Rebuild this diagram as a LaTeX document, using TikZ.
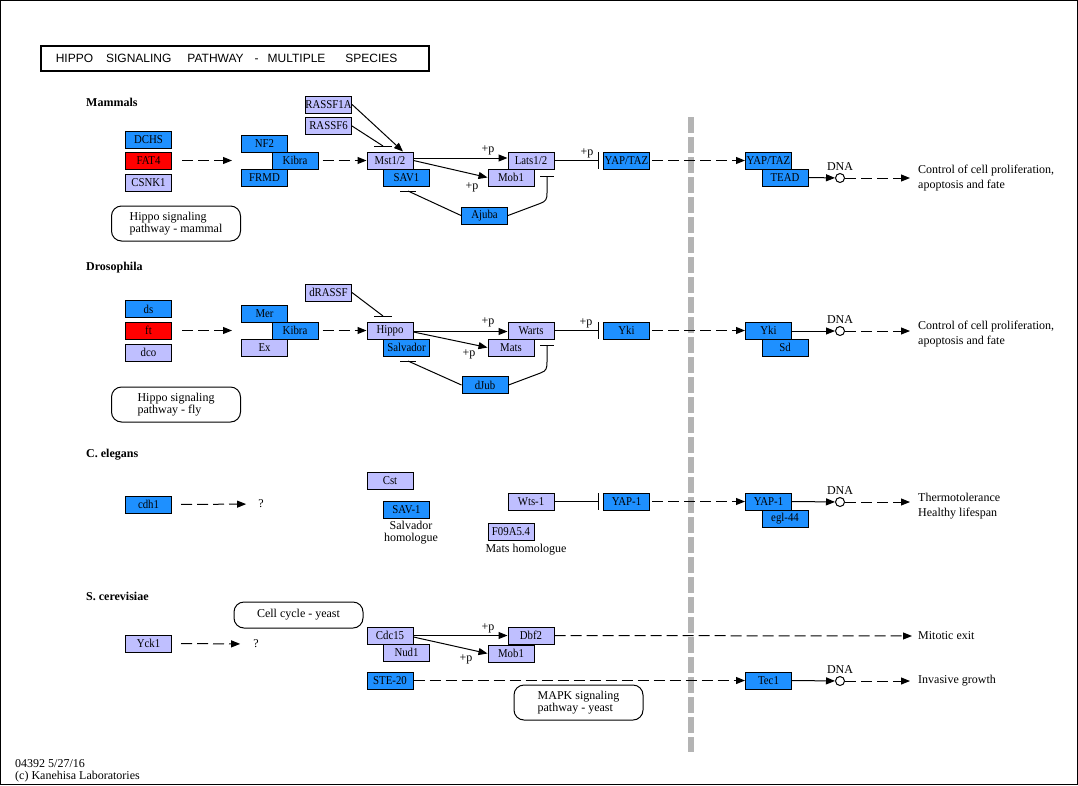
\documentclass[tikz,border=0pt]{standalone}
\usepackage{fontspec}
\setmainfont{Liberation Serif}
\newfontfamily\titlefont{Liberation Sans}
\newfontfamily\genefont[FakeStretch=0.9]{Liberation Serif}
\usetikzlibrary{arrows.meta, positioning}
\definecolor{keggblue}{HTML}{1E90FF}
\definecolor{kegglav}{HTML}{BFBFFF}
\definecolor{keggred}{HTML}{FF0000}
\definecolor{divgray}{HTML}{B4B4B4}
\tikzset{
    gene/.style={draw=black, line width=1pt, minimum width=46pt, minimum height=17pt, inner sep=0pt, font=\genefont\fontsize{12}{12}\selectfont},
    hs/.style={gene, fill=keggblue},
    ortho/.style={gene, fill=kegglav},
    hit/.style={gene, fill=keggred},
    mapbox/.style={draw, rounded corners=10pt, line width=1pt, minimum width=129pt, minimum height=35pt, align=left, font=\fontsize{12}{12}\selectfont},
    act/.style={line width=1pt, -{Triangle[length=9pt,width=7pt]}},
    indirect/.style={act, dash pattern=on 11pt off 5pt},
    inhib/.style={line width=1pt, -{Bar[width=17pt]}, shorten >=4pt},
    tbar/.style={line width=1pt},
    dna/.style={circle, draw, line width=1pt, fill=white, inner sep=0pt, minimum size=9pt},
    lbl/.style={inner sep=0pt, font=\fontsize{12}{12}\selectfont},
    species/.style={anchor=west, inner sep=0pt, font=\fontsize{12}{14}\selectfont\bfseries},
    outcome/.style={anchor=west, align=left, inner sep=0pt, font=\fontsize{12}{15}\selectfont}
}
\begin{document}
\begin{tikzpicture}[x=1pt, y=-1pt]
    \useasboundingbox (0,0) rectangle (1078,785);
    \draw[line width=1pt] (0.5,0.5) rectangle (1077.5,784.5);

    % Title
    \node[draw, line width=1.5pt, anchor=west, inner xsep=15pt, minimum height=25pt, text width=358pt, align=left, font=\titlefont\fontsize{12}{14}\selectfont] (title) at (40,58.5)
        {HIPPO\hspace{13pt}SIGNALING\hspace{16pt}PATHWAY\hspace{11pt}-\hspace{9pt}MULTIPLE\hspace{20pt}SPECIES};

    % Nucleus border
    \coordinate (divtop) at (691,117);
    \coordinate (divbot) at (691,752);
    \draw[divgray, line width=6pt, dash pattern=on 16pt off 4pt] (divtop) -- (divbot);

    % Species labels
    \node[species] (mammals) at (86,102) {Mammals};
    \node[species] (fly) at (86,268) {Drosophila};
    \node[species] (worm) at (86,455) {C. elegans};
    \node[species] (yeast) at (86,596) {S. cerevisiae};

    % Mammals
    \node[hs] (dchs) at (148.5,139.5) {DCHS};
    \node[hit] (fatfour) at (148.5,160.5) {FAT4};
    \node[ortho] (csnk) at (148.5,182.5) {CSNK1};
    \node[hs] (nftwo) at (264.5,144) {NF2};
    \node[hs] (kibraM) at (295,160.5) {Kibra};
    \node[hs] (frmd) at (264.5,177.5) {FRMD};
    \node[ortho] (rassfA) at (328.5,104.5) {RASSF1A};
    \node[ortho] (rassfB) at (328.5,126) {RASSF6};
    \node[ortho] (mst) at (390,160.5) {Mst1/2};
    \node[hs] (savM) at (406.5,177.5) {SAV1};
    \node[ortho] (latsM) at (531,160.5) {Lats1/2};
    \node[ortho] (mobM) at (511,177.5) {Mob1};
    \node[hs] (yapM) at (626.5,160.5) {YAP/TAZ};
    \node[hs] (ajuba) at (484.5,215.5) {Ajuba};
    \node[hs] (yapMn) at (768.5,160.5) {YAP/TAZ};
    \node[hs] (tead) at (785,177.5) {TEAD};
    \node[dna] (dnaM) at (840,178) {};
    \node[lbl, above=2pt of dnaM] (dnaMl) {DNA};
    \node[outcome] (outM) at (918,178) {Control of cell proliferation,\\apoptosis and fate};
    \node[mapbox] (mapM) at (176,223.5) {Hippo signaling\\pathway - mammal};
    \coordinate (barRM) at (383,146);
    \coordinate (barSavM) at (408,191);
    \coordinate (barLatsM) at (547,176);

    \draw[indirect, shorten <=10pt, shorten >=9pt] (fatfour.east) -- (nftwo.west |- fatfour.east);
    \draw[indirect, shorten <=4pt] (kibraM.east) -- (mst.west);
    \draw[act] (rassfA.east) -- ([xshift=13pt]mst.north);
    \draw[tbar] (rassfB.east) -- (barRM);
    \draw[tbar] ([xshift=-9pt]barRM) -- ([xshift=9pt]barRM);
    \draw[act] ([yshift=2.5pt]mst.east) -- ([yshift=2.5pt]latsM.west);
    \draw[act] (mst.east) -- (mobM.west);
    \node[lbl] (pMa) at (488,150) {+p};
    \node[lbl] (pMb) at (472,187) {+p};
    \draw[inhib] (latsM.east) -- (yapM.west);
    \node[lbl] (pMc) at (587,153) {+p};
    \draw[tbar] (ajuba.west) -- (barSavM);
    \draw[tbar] ([xshift=-8pt]barSavM) -- ([xshift=8pt]barSavM);
    \draw[tbar] (ajuba.east) -- ++(32,-12) .. controls +(6,-2) and +(0,6) .. ([yshift=-17pt]barLatsM) -- (barLatsM);
    \draw[tbar] ([xshift=-7pt]barLatsM) -- ([xshift=7pt]barLatsM);
    \draw[indirect, shorten <=2pt] (yapM.east) -- (yapMn.west);
    \draw[act] (tead.east) -- (dnaM);
    \draw[indirect, shorten >=8pt] (dnaM) -- (outM.west);

    % Drosophila
    \node[hs] (ds) at (148.5,309) {ds};
    \node[hit] (ft) at (148.5,330.5) {ft};
    \node[ortho] (dco) at (148.5,352.5) {dco};
    \node[hs] (mer) at (264.5,314) {Mer};
    \node[hs] (kibraD) at (295,330.5) {Kibra};
    \node[ortho] (ex) at (264.5,347.5) {Ex};
    \node[ortho] (drassf) at (328.5,292.5) {dRASSF};
    \node[ortho] (hippo) at (390,330.5) {Hippo};
    \node[hs] (salv) at (406.5,347.5) {Salvador};
    \node[ortho] (warts) at (531,330.5) {Warts};
    \node[ortho] (mats) at (511,347.5) {Mats};
    \node[hs] (yki) at (626.5,330.5) {Yki};
    \node[hs] (djub) at (485,385) {dJub};
    \node[hs] (ykin) at (768.5,330.5) {Yki};
    \node[hs] (sd) at (785,347.5) {Sd};
    \node[dna] (dnaD) at (840,331) {};
    \node[lbl, above=2pt of dnaD] (dnaDl) {DNA};
    \node[outcome] (outD) at (918,334) {Control of cell proliferation,\\apoptosis and fate};
    \node[mapbox] (mapD) at (176,404.5) {Hippo signaling\\pathway - fly};
    \coordinate (barRD) at (383,316);
    \coordinate (barSavD) at (408,361);
    \coordinate (barWarts) at (547,345);

    \draw[indirect, shorten <=10pt, shorten >=9pt] (ft.east) -- (mer.west |- ft.east);
    \draw[indirect, shorten <=4pt] (kibraD.east) -- (hippo.west);
    \draw[tbar] (drassf.east) -- (barRD);
    \draw[tbar] ([xshift=-9pt]barRD) -- ([xshift=9pt]barRD);
    \draw[act] ([yshift=-1pt]hippo.east) -- ([yshift=-1pt]warts.west);
    \draw[act] ([yshift=-1.5pt]hippo.east) -- (mats.west);
    \node[lbl] (pDa) at (488,322) {+p};
    \node[lbl] (pDb) at (469,354) {+p};
    \draw[inhib] (warts.east) -- (yki.west);
    \node[lbl] (pDc) at (586,323) {+p};
    \draw[tbar] (djub.west) -- (barSavD);
    \draw[tbar] ([xshift=-8pt]barSavD) -- ([xshift=8pt]barSavD);
    \draw[tbar] (djub.east) -- ++(32,-12) .. controls +(6,-2) and +(0,6) .. ([yshift=-17pt]barWarts) -- (barWarts);
    \draw[tbar] ([xshift=-7pt]barWarts) -- ([xshift=7pt]barWarts);
    \draw[indirect, shorten <=2pt] (yki.east) -- (ykin.west);
    \draw[act] (ykin.east |- dnaD) -- (dnaD);
    \draw[indirect, shorten >=8pt] (dnaD) -- (outD.west |- dnaD);

    % C. elegans
    \node[hs] (cdh) at (148.5,504.5) {cdh1};
    \node[lbl] (qW) at (261,504) {?};
    \node[ortho] (cst) at (390,480.5) {Cst};
    \node[hs] (savW) at (406.5,509.5) {SAV-1};
    \node[lbl, align=center] (savWl) at (411,533) {Salvador\\homologue};
    \node[ortho] (wts) at (531,501.5) {Wts-1};
    \node[ortho] (fnine) at (511,531.5) {F09A5.4};
    \node[lbl] (fninel) at (526,550) {Mats homologue};
    \node[hs] (yapW) at (626.5,501.5) {YAP-1};
    \node[hs] (yapWn) at (768.5,501.5) {YAP-1};
    \node[hs] (egl) at (785,518.5) {egl-44};
    \node[dna] (dnaW) at (840,502) {};
    \node[lbl, above=2pt of dnaW] (dnaWl) {DNA};
    \node[outcome] (outW) at (918,506) {Thermotolerance\\Healthy lifespan};

    \draw[indirect, shorten <=9pt, shorten >=12pt] (cdh.east) -- (qW);
    \draw[inhib] (wts.east) -- (yapW.west);
    \draw[indirect, shorten <=2pt] (yapW.east) -- (yapWn.west);
    \draw[act] (yapWn.east) -- (dnaW);
    \draw[indirect, shorten >=8pt] (dnaW) -- (outW.west |- dnaW);

    % S. cerevisiae
    \node[mapbox, minimum height=26pt] (mapY) at (298.5,615) {Cell cycle - yeast};
    \node[ortho] (yck) at (148.5,643.5) {Yck1};
    \node[lbl] (qY) at (256,644) {?};
    \node[ortho] (cdc) at (390,635.5) {Cdc15};
    \node[ortho] (nud) at (406.5,652.5) {Nud1};
    \node[ortho] (dbf) at (531,635.5) {Dbf2};
    \node[ortho] (mobY) at (511,653.5) {Mob1};
    \node[hs] (ste) at (390,680.5) {STE-20};
    \node[hs] (tec) at (768.5,680.5) {Tec1};
    \node[dna] (dnaY) at (840,681) {};
    \node[lbl, above=2pt of dnaY] (dnaYl) {DNA};
    \node[outcome] (outYa) at (918,636) {Mitotic exit};
    \node[outcome] (outYb) at (918,681) {Invasive growth};
    \node[mapbox] (mapY2) at (578.5,702.5) {MAPK signaling\\pathway - yeast};

    \draw[indirect, shorten <=9pt, shorten >=13pt] (yck.east) -- (qY);
    \draw[act] (cdc.east) -- (dbf.west);
    \draw[act] ([yshift=-1.5pt]cdc.east) -- (mobY.west);
    \node[lbl] (pYa) at (488,628) {+p};
    \node[lbl] (pYb) at (466,659) {+p};
    \draw[indirect, shorten >=6pt] (dbf.east) -- (outYa.west);
    \draw[indirect] (ste.east) -- (tec.west);
    \draw[act] (tec.east) -- (dnaY);
    \draw[indirect, shorten >=8pt] (dnaY) -- (outYb.west);

    % Footer
    \node[anchor=west, align=left, inner sep=0pt, font=\fontsize{12}{12}\selectfont] (footer) at (15,771) {04392 5/27/16\\(c) Kanehisa Laboratories};
\end{tikzpicture}
\end{document}
